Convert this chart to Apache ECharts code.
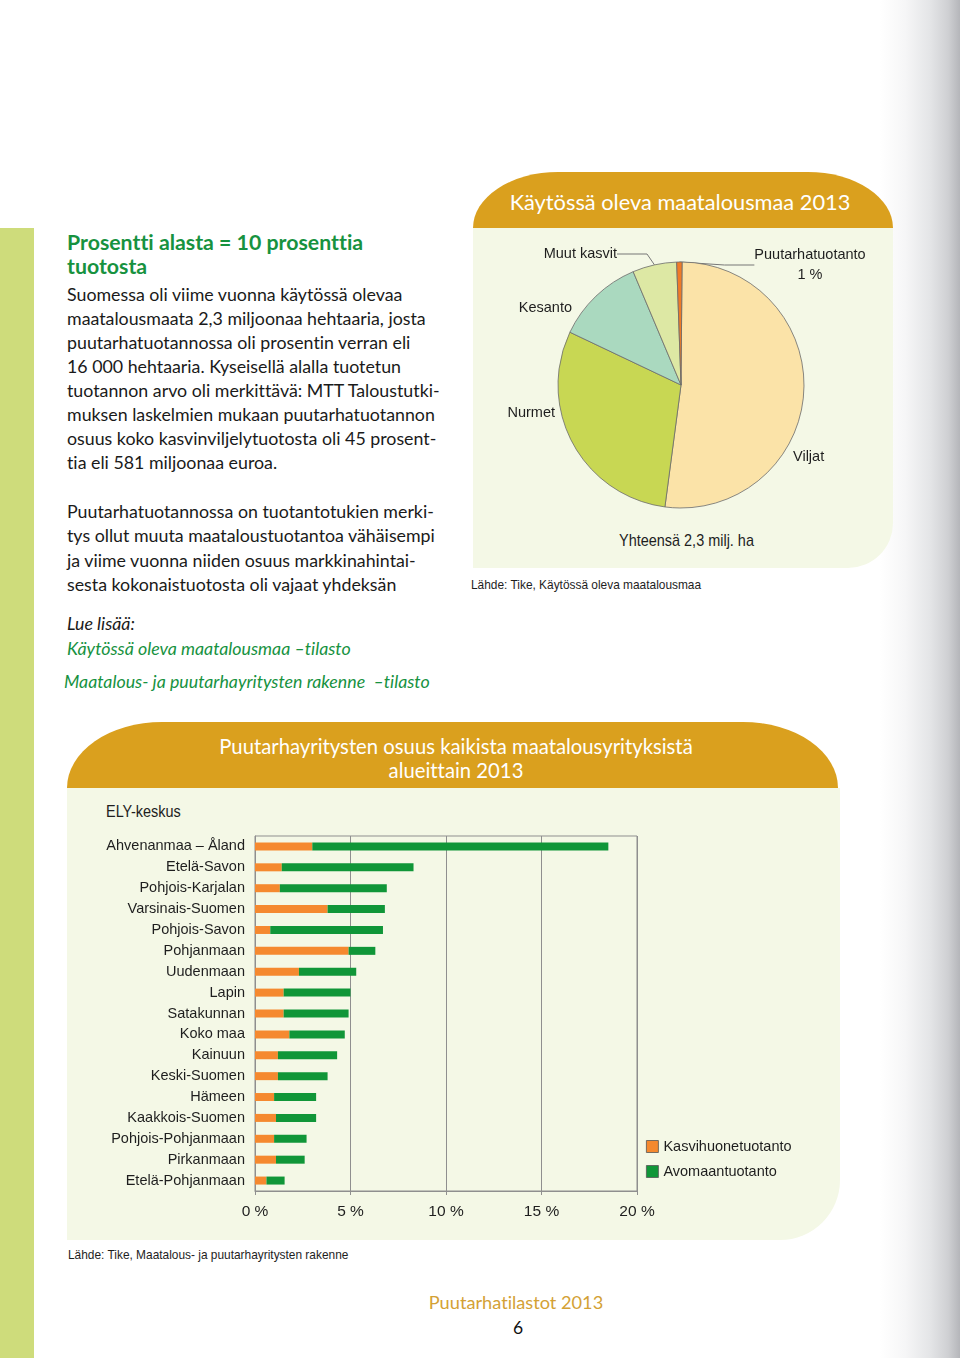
<!DOCTYPE html>
<html><head><meta charset="utf-8">
<script src="https://cdn.jsdelivr.net/npm/echarts@6/dist/echarts.min.js"></script>
<style>
html,body{margin:0;padding:0;width:960px;height:1358px;background:#fff;overflow:hidden;}
body{position:relative;font-family:Lato,"Open Sans",sans-serif;color:#1a1a1a;font-variant-ligatures:none;}
.a{position:absolute;white-space:nowrap;}
#stripe{left:0;top:228px;width:34px;height:1130px;background:#CEDC7B;}
#shade{left:880px;top:0;width:80px;height:1358px;background:linear-gradient(to right,#ffffff 0px,#f6f6f7 25px,#e4e5e7 50px,#cfd0d3 68px,#b5b6ba 80px);}
#pieHead{left:473px;top:172px;width:420px;height:56px;background:#DAA01E;border-radius:85px 85px 0 0/56px 56px 0 0;}
#pieBox{left:473px;top:228px;width:420px;height:340px;background:#F4F8E6;border-radius:0 0 45px 0;}
#barHead{left:67px;top:722px;width:771px;height:66px;background:#DAA01E;border-radius:95px 95px 0 0/66px 66px 0 0;}
#barBox{left:67px;top:788px;width:773px;height:452px;background:#F4F8E6;border-radius:0 0 60px 0;}
.head{font-weight:700;font-size:21.3px;line-height:24px;color:#17923F;}
.body{font-size:17.8px;line-height:24px;}
.nar{font-family:"Liberation Sans",Arial,sans-serif;color:#1e1e1e;transform:scaleX(0.85);transform-origin:0 0;}
.src{font-family:"Liberation Sans",Arial,sans-serif;color:#1e1e1e;font-size:13px;line-height:16px;transform:scaleX(0.915);transform-origin:0 0;}
.wt{color:#fff;text-align:center;}
#chart{position:absolute;left:0;top:0;width:960px;height:1358px;}
</style></head><body>
<div class="a" id="stripe"></div>
<div class="a" id="shade"></div>
<div class="a" id="pieHead"></div>
<div class="a" id="pieBox"></div>
<div class="a" id="barHead"></div>
<div class="a" id="barBox"></div>

<div class="a head" style="left:67px;top:230px;">Prosentti alasta = 10 prosenttia<br>tuotosta</div>
<div class="a body" style="left:67px;top:282px;">Suomessa oli viime vuonna käytössä olevaa<br>maatalousmaata 2,3 miljoonaa hehtaaria, josta<br>puutarhatuotannossa oli prosentin verran eli<br>16 000 hehtaaria. Kyseisellä alalla tuotetun<br>tuotannon arvo oli merkittävä: MTT Taloustutki-<br>muksen laskelmien mukaan puutarhatuotannon<br>osuus koko kasvinviljelytuotosta oli 45 prosent-<br>tia eli 581 miljoonaa euroa.</div>
<div class="a body" style="left:67px;top:499px;line-height:24.3px;">Puutarhatuotannossa on tuotantotukien merki-<br>tys ollut muuta maataloustuotantoa vähäisempi<br>ja viime vuonna niiden osuus markkinahintai-<br>sesta kokonaistuotosta oli vajaat yhdeksän</div>
<div class="a body" style="left:67px;top:611px;font-style:italic;">Lue lisää:</div>
<div class="a body" style="left:67px;top:636px;font-style:italic;color:#17923F;">Käytössä oleva maatalousmaa –tilasto</div>
<div class="a body" style="left:64px;top:669px;font-style:italic;color:#17923F;">Maatalous- ja puutarhayritysten rakenne &nbsp;–tilasto</div>

<div class="a wt" style="left:473px;top:188px;width:414px;font-size:21.8px;line-height:28px;">Käytössä oleva maatalousmaa 2013</div>
<div class="a nar" style="left:619px;top:531px;font-size:17px;line-height:20px;">Yhteensä 2,3 milj. ha</div>
<div class="a src" style="left:471px;top:577px;">Lähde: Tike, Käytössä oleva maatalousmaa</div>

<div class="a wt" style="left:156px;top:734px;width:600px;font-size:20.3px;line-height:24px;">Puutarhayritysten osuus kaikista maatalousyrityksistä<br>alueittain 2013</div>
<div class="a nar" style="left:106px;top:802px;font-size:17px;line-height:20px;">ELY-keskus</div>
<div class="a src" style="left:68px;top:1247px;">Lähde: Tike, Maatalous- ja puutarhayritysten rakenne</div>

<div class="a" style="left:416px;top:1290px;width:200px;text-align:center;font-size:18.2px;line-height:24px;color:#D3A135;">Puutarhatilastot 2013</div>
<div class="a" style="left:418px;top:1316px;width:200px;text-align:center;font-size:17.5px;line-height:24px;color:#111;">6</div>

<div id="chart"></div>
<script>
// ---- data ----
const pieNames = ['Viljat', 'Nurmet', 'Kesanto', 'Muut kasvit', 'Puutarhatuotanto'];
const pieValues = [52.0, 30.0, 11.6, 5.8, 0.7];

const regions = ['Ahvenanmaa – Åland', 'Etelä-Savon', 'Pohjois-Karjalan', 'Varsinais-Suomen', 'Pohjois-Savon',
  'Pohjanmaan', 'Uudenmaan', 'Lapin', 'Satakunnan', 'Koko maa', 'Kainuun', 'Keski-Suomen', 'Hämeen',
  'Kaakkois-Suomen', 'Pohjois-Pohjanmaan', 'Pirkanmaan', 'Etelä-Pohjanmaan'];
const greenhouse = [3.0, 1.4, 1.3, 3.8, 0.8, 4.9, 2.3, 1.5, 1.5, 1.8, 1.2, 1.2, 1.0, 1.1, 1.0, 1.1, 0.6];
const openField = [15.5, 6.9, 5.6, 3.0, 5.9, 1.4, 3.0, 3.5, 3.4, 2.9, 3.1, 2.6, 2.2, 2.1, 1.7, 1.5, 0.95];
const xTickLabels = ['0 %', '5 %', '10 %', '15 %', '20 %'];
const seriesNames = ['Kasvihuonetuotanto', 'Avomaantuotanto'];

// ---- styles ----
const pieColors = ['#FBE3A8', '#C8D753', '#AAD9BF', '#DDE8A4', '#F07B27'];
const ORANGE = '#F5892F', GREEN = '#109638', GRID = '#8f8f8f';
const FONT = '"Liberation Sans",Arial,sans-serif';
const FS = 14.5;
const pieLabelPos = [
  {x: 793, y: 457, align: 'left', verticalAlign: 'middle'},
  {x: 555, y: 413, align: 'right', verticalAlign: 'middle'},
  {x: 572, y: 308, align: 'right', verticalAlign: 'middle'},
  {x: 617, y: 254, align: 'right', verticalAlign: 'middle'},
  {x: 810, y: 245, align: 'center', verticalAlign: 'top'}
];

const chart = echarts.init(document.getElementById('chart'), null, {renderer: 'canvas'});
chart.setOption({
  backgroundColor: 'transparent',
  animation: false,
  textStyle: {fontFamily: FONT},
  grid: {left: 255, top: 836, width: 382, height: 355, show: true, borderColor: GRID, borderWidth: 1, backgroundColor: 'transparent'},
  xAxis: {
    type: 'value', min: 0, max: 20, interval: 5,
    axisLine: {show: true, lineStyle: {color: GRID}},
    axisTick: {show: true, length: 4, lineStyle: {color: GRID}},
    splitLine: {show: true, lineStyle: {color: GRID, width: 1}},
    axisLabel: {color: '#1e1e1e', fontSize: 15.5, fontFamily: FONT, margin: 13,
      formatter: (v) => xTickLabels[Math.round(v / 5)]}
  },
  yAxis: {
    type: 'category', data: regions, inverse: true,
    axisLine: {show: true, lineStyle: {color: GRID}},
    axisTick: {show: false},
    axisLabel: {color: '#1e1e1e', fontSize: FS, fontFamily: FONT, margin: 10}
  },
  legend: {
    left: 646, top: 1139, padding: 0, orient: 'vertical', itemWidth: 12, itemHeight: 12, itemGap: 10,
    icon: 'rect', data: seriesNames,
    itemStyle: {borderColor: '#555', borderWidth: 0.8},
    textStyle: {color: '#1e1e1e', fontSize: FS, fontFamily: FONT}
  },
  series: [
    {type: 'bar', name: seriesNames[0], stack: 'tot', data: greenhouse, barWidth: 8, itemStyle: {color: ORANGE}},
    {type: 'bar', name: seriesNames[1], stack: 'tot', data: openField, barWidth: 8, itemStyle: {color: GREEN}},
    {
      type: 'pie', center: [681, 385], radius: 123, startAngle: 89.5, clockwise: true,
      data: pieNames.map((n, i) => ({name: n, value: pieValues[i],
        itemStyle: {color: pieColors[i]}, labelLine: {show: i >= 3}})),
      itemStyle: {borderColor: '#6b6b6b', borderWidth: 0.8},
      label: {show: true, color: '#1e1e1e', fontSize: FS, fontFamily: FONT, lineHeight: 20,
        formatter: (p) => p.dataIndex === 4 ? p.name + '\n' + Math.round(p.percent) + ' %' : p.name},
      labelLine: {show: true, lineStyle: {color: '#777', width: 1}},
      labelLayout: (p) => pieLabelPos[p.dataIndex],
      emphasis: {disabled: true}
    }
  ]
});
</script>
</body></html>
